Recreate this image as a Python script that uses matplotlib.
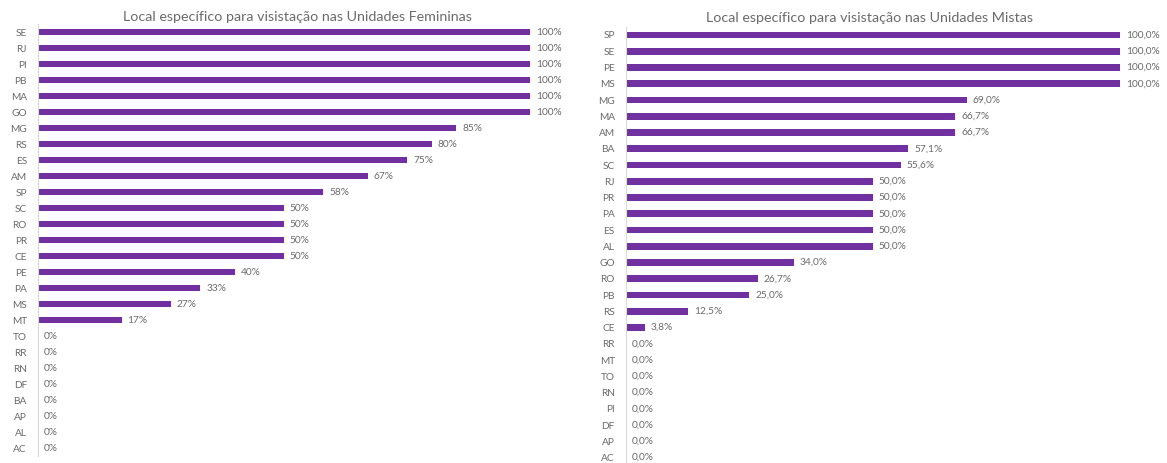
import matplotlib.pyplot as plt

plt.rcParams['font.family'] = ['Lato', 'DejaVu Sans']

# Unidades Femininas (top to bottom)
fem_estados = ['SE', 'RJ', 'PI', 'PB', 'MA', 'GO', 'MG', 'RS', 'ES', 'AM', 'SP', 'SC', 'RO', 'PR',
               'CE', 'PE', 'PA', 'MS', 'MT', 'TO', 'RR', 'RN', 'DF', 'BA', 'AP', 'AL', 'AC']
fem_valores = [100, 100, 100, 100, 100, 100, 85, 80, 75, 67, 58, 50, 50, 50,
               50, 40, 33, 27, 17, 0, 0, 0, 0, 0, 0, 0, 0]

# Unidades Mistas (top to bottom)
mis_estados = ['SP', 'SE', 'PE', 'MS', 'MG', 'MA', 'AM', 'BA', 'SC', 'RJ', 'PR', 'PA', 'ES', 'AL',
               'GO', 'RO', 'PB', 'RS', 'CE', 'RR', 'MT', 'TO', 'RN', 'PI', 'DF', 'AP', 'AC']
mis_valores = [100.0, 100.0, 100.0, 100.0, 69.0, 66.7, 66.7, 57.1, 55.6, 50.0, 50.0, 50.0, 50.0, 50.0,
               34.0, 26.7, 25.0, 12.5, 3.8, 0.0, 0.0, 0.0, 0.0, 0.0, 0.0, 0.0, 0.0]

cor = '#7030A0'
cinza = '#6a6a6a'

fig = plt.figure(figsize=(11.67, 4.63), dpi=100)
ax1 = fig.add_axes([0.0326, 0.015, 0.4216, 0.933])
ax2 = fig.add_axes([0.5364, -0.006, 0.4233, 0.948])


def desenha(ax, estados, valores, fmt):
    y = list(range(len(estados)))
    ax.barh(y, valores, height=0.42, color=cor)
    for yi, v in zip(y, valores):
        ax.text(v + 1.2, yi, fmt(v), va='center', ha='left', fontsize=7.3, color=cinza)
    ax.set_yticks(y)
    ax.set_yticklabels(estados, fontsize=7.3, color=cinza)
    ax.set_ylim(len(estados) - 0.5, -0.5)
    ax.set_xlim(0, 100)
    ax.set_xticks([])
    for s in ['top', 'right', 'bottom']:
        ax.spines[s].set_visible(False)
    ax.spines['left'].set_color('#d9d9d9')
    ax.tick_params(axis='y', length=0, pad=8)
    ax.patch.set_alpha(0)


desenha(ax1, fem_estados, fem_valores, lambda v: f'{v:.0f}%')
desenha(ax2, mis_estados, mis_valores, lambda v: f'{v:.1f}%'.replace('.', ','))

fig.text(0.255, 0.963, 'Local específico para visistação nas Unidades Femininas',
         ha='center', va='center', fontsize=10.3, color=cinza)
fig.text(0.745, 0.961, 'Local específico para visistação nas Unidades Mistas',
         ha='center', va='center', fontsize=10.3, color=cinza)

fig.savefig('out.png', dpi=100)
